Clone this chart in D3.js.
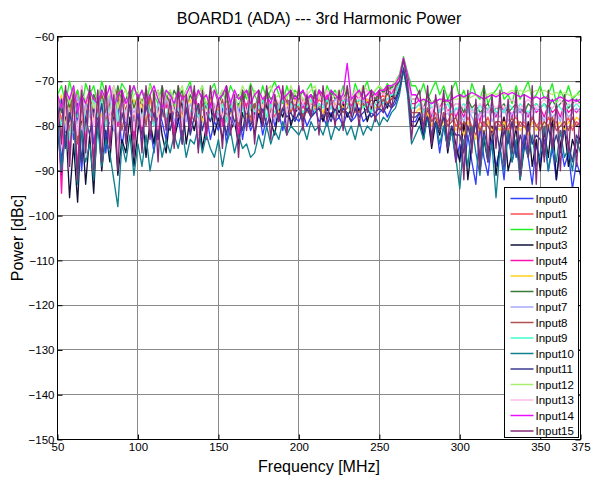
<!DOCTYPE html>
<html>
<head>
<meta charset="utf-8">
<script src="https://cdn.jsdelivr.net/npm/d3@7"></script>
<style>
  body { margin: 0; background: #fff; }
  text { font-family: Arial, "Liberation Sans", sans-serif; fill: #000; }
</style>
</head>
<body>
<svg width="592" height="480"></svg>
<script>
// frequency grid, MHz
var freq = [50,52.5,55,57.5,60,62.5,65,67.5,70,72.5,
  75,77.5,80,82.5,85,87.5,90,92.5,95,97.5,
  100,102.5,105,107.5,110,112.5,115,117.5,120,122.5,
  125,127.5,130,132.5,135,137.5,140,142.5,145,147.5,
  150,152.5,155,157.5,160,162.5,165,167.5,170,172.5,
  175,177.5,180,182.5,185,187.5,190,192.5,195,197.5,
  200,202.5,205,207.5,210,212.5,215,217.5,220,222.5,
  225,227.5,230,232.5,235,237.5,240,242.5,245,247.5,
  250,252.5,255,257.5,260,262.5,265,267.5,270,272.5,
  275,277.5,280,282.5,285,287.5,290,292.5,295,297.5,
  300,302.5,305,307.5,310,312.5,315,317.5,320,322.5,
  325,327.5,330,332.5,335,337.5,340,342.5,345,347.5,
  350,352.5,355,357.5,360,362.5,365,367.5,370,372.5,
  375];

// 3rd harmonic power per input, dBc
var input0 = [-76,-88,-79,-74,-83,-77,-90,-78,-73,-84,
  -79,-75,-86,-77,-81,-74,-85,-78,-76,-82,
  -77,-84,-75,-80,-86,-76,-79,-83,-74,-81,
  -78,-84,-76,-80,-75,-85,-78,-77,-83,-79,
  -81,-76,-84,-78,-80,-75,-83,-77,-81,-79,
  -76,-82,-78,-75,-80,-77,-81,-76,-79,-78,
  -79,-77,-80,-78,-76,-79,-78,-80,-77,-79,
  -78,-80,-77,-79,-78,-76,-79,-78,-77,-78,
  -77,-76,-78,-76,-75,-72,-67,-71,-79,-79,
  -77,-82,-78,-84,-79,-86,-80,-85,-81,-88,
  -84,-90,-82,-88,-93,-80,-87,-91,-83,-89,
  -85,-92,-81,-88,-84,-90,-82,-87,-93,-84,
  -88,-83,-90,-85,-92,-84,-89,-86,-94,-88,
  -91];
var input1 = [-74,-79,-73,-81,-76,-72,-80,-75,-78,-73,
  -77,-72,-79,-74,-76,-80,-73,-77,-75,-79,
  -74,-78,-76,-73,-80,-75,-77,-74,-79,-76,
  -75,-78,-74,-77,-79,-75,-76,-78,-74,-77,
  -76,-79,-75,-77,-74,-78,-76,-75,-79,-76,
  -75,-77,-74,-76,-78,-75,-74,-77,-75,-76,
  -76,-74,-77,-75,-76,-74,-75,-77,-75,-74,
  -75,-76,-74,-75,-77,-74,-75,-74,-76,-74,
  -74,-73,-75,-73,-72,-70,-66,-70,-76,-76,
  -75,-78,-76,-79,-77,-80,-78,-79,-77,-80,
  -79,-81,-78,-80,-82,-79,-80,-78,-81,-79,
  -80,-78,-81,-79,-78,-80,-79,-81,-78,-80,
  -79,-81,-78,-80,-79,-82,-80,-78,-81,-79,
  -80];
var input2 = [-73,-71,-75,-70,-74,-72,-76,-70.5,-73,-71,
  -75,-70,-73,-76,-71,-74,-70.5,-72,-75,-71,
  -74,-72,-76,-70.5,-73,-75,-71,-74,-72,-76,
  -71,-74,-72,-70,-75,-73,-71,-76,-72,-70.5,
  -74,-72,-75,-71,-73,-76,-72,-74,-70.5,-73,
  -75,-71,-74,-72,-70,-73,-75,-71,-74,-72,
  -73,-75,-72,-70.5,-74,-72,-75,-71,-73,-72,
  -74,-71,-73,-75,-70.5,-73,-72,-70,-74,-72,
  -71,-73,-70.5,-72,-70,-68.5,-64.5,-68,-71,-71,
  -73,-70.5,-74,-72,-70,-73,-71,-74,-72,-70,
  -74,-72,-75,-70.5,-73,-74,-71,-75,-73,-72,
  -70.5,-74,-73,-75,-71,-74,-72,-70,-74,-73,
  -71,-74,-73,-70.5,-75,-72,-74,-71,-74,-73,
  -72];
var input3 = [-80,-91,-78,-96,-84,-97,-79,-93,-82,-95,
  -77,-90,-81,-88,-76,-91,-83,-86,-78,-89,
  -81,-76,-87,-79,-84,-75,-82,-86,-77,-83,
  -79,-74,-84,-78,-81,-76,-85,-80,-75,-82,
  -78,-83,-76,-81,-79,-84,-77,-80,-75,-82,
  -77,-80,-75,-79,-82,-76,-78,-74,-80,-77,
  -76,-79,-74,-78,-77,-75,-79,-76,-78,-75,
  -77,-75,-78,-76,-74,-77,-75,-79,-76,-74,
  -75,-74,-76,-73,-74,-71,-66.5,-72,-80,-80,
  -78,-83,-76,-85,-79,-82,-77,-86,-80,-84,
  -88,-79,-92,-84,-77,-90,-83,-88,-80,-91,
  -84,-78,-90,-86,-80,-92,-85,-79,-89,-83,
  -90,-81,-87,-78,-92,-84,-80,-89,-83,-86,
  -82];
var input4 = [-75,-95,-72,-86,-74,-90,-71,-84,-73,-88,
  -72,-82,-71,-85,-74,-80,-72,-78,-71,-83,
  -73,-81,-72,-78,-74,-83,-72,-76,-73,-82,
  -72,-79,-74,-81,-72,-77,-73,-83,-74,-78,
  -73,-80,-72,-77,-75,-82,-73,-76,-72,-79,
  -74,-77,-72,-78,-73,-76,-72,-75,-74,-77,
  -72,-76,-74,-73,-77,-72,-75,-73,-76,-74,
  -73,-75,-72,-76,-73,-74,-72,-75,-73,-74,
  -72,-73,-71,-73,-71,-69.5,-65.5,-69,-75,-75,
  -74,-77,-73,-78,-75,-76,-74,-77,-75,-78,
  -76,-78,-75,-77,-76,-79,-75,-77,-76,-78,
  -75,-77,-76,-78,-75,-77,-76,-78,-75,-77,
  -76,-78,-75,-77,-76,-78,-75,-77,-76,-77,
  -76];
var input5 = [-76,-73,-80,-75,-78,-74,-81,-76,-73,-79,
  -75,-78,-74,-77,-80,-75,-73,-78,-76,-74,
  -77,-75,-79,-74,-76,-78,-75,-73,-77,-76,
  -75,-78,-76,-74,-77,-75,-79,-76,-74,-77,
  -76,-78,-75,-77,-79,-76,-74,-78,-76,-75,
  -77,-75,-78,-76,-74,-77,-76,-75,-77,-74,
  -75,-77,-76,-74,-76,-75,-77,-74,-76,-75,
  -74,-76,-75,-77,-74,-75,-76,-74,-75,-76,
  -75,-74,-73,-74,-73,-70.5,-66.5,-70,-77,-77,
  -76,-79,-77,-80,-78,-81,-79,-80,-78,-81,
  -80,-82,-79,-81,-83,-80,-82,-79,-81,-80,
  -81,-79,-82,-80,-79,-81,-80,-82,-79,-81,
  -80,-79,-81,-78,-80,-79,-81,-79,-80,-78,
  -79];
var input6 = [-74,-77,-72,-76,-73,-78,-72,-75,-77,-73,
  -75,-72,-77,-73,-76,-71,-75,-74,-72,-76,
  -73,-75,-72,-77,-74,-72,-76,-73,-75,-72,
  -74,-72,-76,-73,-75,-72,-74,-76,-73,-72,
  -75,-73,-72,-76,-74,-73,-75,-72,-74,-76,
  -73,-75,-72,-74,-73,-76,-72,-74,-75,-73,
  -74,-72,-75,-73,-74,-72,-73,-75,-72,-74,
  -73,-74,-72,-75,-73,-72,-74,-73,-72,-74,
  -73,-72,-73,-71,-72,-70,-66,-69.5,-74,-74,
  -74,-76,-73,-75,-74,-76,-75,-74,-76,-75,
  -75,-77,-74,-76,-75,-77,-76,-75,-77,-76,
  -76,-75,-77,-76,-75,-76,-77,-75,-76,-75,
  -76,-75,-76,-74,-76,-75,-74,-76,-75,-74,
  -75];
var input7 = [-77,-74,-81,-76,-79,-73,-82,-75,-78,-74,
  -80,-75,-78,-73,-81,-76,-74,-79,-75,-77,
  -75,-79,-74,-77,-80,-75,-78,-74,-76,-79,
  -76,-74,-79,-75,-77,-80,-74,-78,-76,-75,
  -78,-75,-77,-74,-80,-76,-75,-79,-74,-77,
  -75,-78,-74,-76,-79,-75,-77,-74,-76,-75,
  -77,-75,-76,-78,-74,-76,-75,-77,-76,-74,
  -75,-77,-74,-76,-75,-78,-74,-76,-75,-77,
  -75,-74,-74,-73,-72,-70.5,-66,-70,-76,-76,
  -75,-78,-76,-77,-79,-76,-78,-77,-79,-76,
  -77,-79,-76,-78,-80,-77,-78,-76,-79,-77,
  -78,-76,-79,-77,-78,-76,-79,-77,-78,-76,
  -77,-79,-76,-78,-77,-79,-76,-78,-77,-76,
  -77];
var input8 = [-75,-82,-74,-79,-72,-84,-76,-80,-73,-78,
  -77,-73,-80,-75,-78,-72,-81,-76,-74,-79,
  -76,-74,-80,-73,-78,-75,-77,-79,-74,-76,
  -78,-73,-76,-79,-74,-77,-75,-80,-73,-76,
  -77,-74,-79,-75,-76,-80,-74,-77,-78,-75,
  -76,-79,-74,-77,-75,-78,-76,-74,-77,-75,
  -76,-78,-74,-77,-75,-76,-78,-75,-74,-76,
  -75,-77,-76,-74,-76,-77,-75,-76,-74,-75,
  -76,-74,-75,-74,-73,-71,-66.5,-71,-77,-77,
  -77,-80,-76,-79,-78,-81,-77,-80,-79,-78,
  -81,-79,-80,-82,-78,-81,-79,-80,-82,-79,
  -79,-81,-80,-78,-81,-79,-80,-81,-78,-80,
  -81,-79,-80,-78,-81,-80,-79,-81,-78,-80,
  -79];
var input9 = [-76,-80,-74,-83,-75,-78,-73,-81,-77,-74,
  -78,-74,-80,-76,-73,-79,-75,-77,-74,-80,
  -75,-78,-74,-77,-80,-75,-76,-78,-74,-77,
  -76,-79,-75,-77,-74,-78,-76,-75,-79,-76,
  -77,-75,-79,-76,-74,-78,-76,-80,-75,-77,
  -76,-74,-78,-75,-77,-76,-74,-77,-75,-76,
  -75,-77,-76,-74,-77,-75,-76,-74,-76,-77,
  -76,-74,-75,-77,-75,-74,-76,-75,-77,-75,
  -74,-75,-74,-73,-73,-70.5,-66.5,-70,-76,-76,
  -75,-77,-74,-76,-75,-77,-76,-75,-77,-76,
  -76,-75,-77,-76,-78,-75,-77,-76,-75,-77,
  -76,-77,-75,-76,-77,-75,-76,-77,-76,-75,
  -76,-75,-77,-76,-75,-76,-77,-75,-76,-75,
  -76];
var input10 = [-78,-90,-82,-86,-79,-93,-81,-88,-84,-92,
  -80,-89,-83,-86,-92,-98,-84,-88,-82,-91,
  -84,-89,-82,-90,-85,-81,-87,-83,-86,-82,
  -85,-81,-87,-83,-84,-80,-86,-82,-85,-87,
  -83,-89,-84,-81,-86,-82,-85,-84,-87,-86,
  -82,-85,-80,-84,-81,-83,-79,-82,-80,-81,
  -82,-80,-83,-79,-81,-80,-82,-79,-83,-80,
  -81,-79,-82,-80,-83,-79,-82,-80,-81,-78,
  -80,-78,-79,-77,-76,-73,-67.5,-73,-84,-82,
  -80,-83,-78,-82,-79,-84,-80,-85,-81,-87,
  -94,-83,-89,-80,-86,-91,-82,-88,-84,-96,
  -85,-90,-81,-88,-83,-92,-84,-87,-82,-89,
  -86,-80,-90,-84,-88,-81,-87,-85,-90,-83,
  -86];
var input11 = [-79,-74,-85,-77,-81,-75,-88,-78,-82,-76,
  -80,-75,-83,-78,-76,-84,-77,-81,-75,-79,
  -78,-82,-75,-80,-77,-83,-76,-79,-81,-76,
  -77,-80,-76,-82,-78,-75,-81,-77,-79,-76,
  -80,-77,-82,-76,-79,-78,-81,-76,-80,-77,
  -78,-76,-80,-77,-75,-79,-76,-78,-77,-79,
  -77,-79,-76,-78,-77,-76,-78,-77,-79,-76,
  -78,-76,-77,-79,-76,-78,-77,-76,-78,-77,
  -76,-77,-75,-76,-74,-72,-67,-72,-78,-78,
  -77,-80,-78,-82,-79,-81,-78,-83,-80,-82,
  -82,-86,-80,-84,-79,-87,-81,-85,-83,-80,
  -86,-81,-84,-79,-87,-82,-85,-80,-84,-82,
  -83,-87,-80,-85,-82,-86,-81,-84,-88,-82,
  -84];
var input12 = [-73,-76,-72,-75,-71,-77,-73,-74,-72,-76,
  -74,-72,-75,-73,-71,-76,-73,-72,-75,-73,
  -72,-75,-73,-71,-74,-72,-76,-73,-72,-74,
  -73,-71,-75,-72,-74,-73,-71,-75,-73,-72,
  -74,-72,-73,-75,-72,-74,-71,-73,-75,-72,
  -73,-74,-72,-71,-74,-73,-72,-74,-71,-73,
  -72,-74,-73,-72,-71,-74,-73,-72,-74,-73,
  -72,-73,-71,-74,-72,-73,-71,-72,-73,-72,
  -71,-72,-71,-71,-70,-69,-65,-68.5,-73,-73,
  -74,-74.5,-74,-75,-74.5,-74,-75,-74.5,-74,-74,
  -74,-73.5,-74,-73.5,-73,-73.5,-73,-73,-72.5,-73,
  -72.5,-73,-72.5,-72,-72.5,-72,-72.5,-72,-72.5,-72,
  -72.5,-72,-72.5,-73,-72.5,-73,-72.5,-73,-73.5,-73,
  -73];
var input13 = [-74,-85,-72,-90,-75,-82,-71,-87,-74,-80,
  -72,-84,-73,-79,-71,-86,-74,-78,-72,-81,
  -73,-80,-72,-82,-74,-78,-72,-81,-73,-77,
  -74,-80,-72,-78,-75,-82,-73,-79,-72,-77,
  -73,-78,-75,-81,-72,-79,-74,-77,-73,-80,
  -72,-76,-74,-78,-73,-75,-72,-77,-74,-75,
  -73,-75,-72,-76,-74,-73,-75,-72,-74,-76,
  -72,-74,-73,-75,-72,-74,-73,-72,-74,-73,
  -72,-73,-72,-72,-71,-69.5,-65.5,-69,-74,-74,
  -74,-76,-75,-77,-74,-76,-75,-77,-76,-75,
  -75,-76,-75,-77,-76,-75,-76,-77,-75,-76,
  -75,-76,-75,-74,-75,-76,-75,-74,-75,-76,
  -75,-74,-75,-76,-75,-74,-76,-75,-74,-75,
  -75];
var input14 = [-73,-76,-72,-74,-71,-77,-73,-75,-72,-74,
  -75,-72,-74,-71,-76,-73,-72,-75,-73,-71,
  -74,-72,-75,-73,-71,-74,-76,-72,-73,-75,
  -72,-74,-73,-71,-75,-72,-74,-73,-76,-72,
  -74,-73,-71,-75,-72,-74,-73,-72,-75,-73,
  -72,-74,-73,-75,-72,-71,-74,-73,-72,-74,
  -73,-72,-74,-73,-75,-72,-73,-74,-72,-73,
  -74,-73,-66,-74,-73,-72,-74,-73,-72,-73,
  -72,-72,-71,-71,-70.5,-69,-64.8,-68.5,-73,-73,
  -74.5,-74,-74.5,-75,-74.5,-74,-74,-74.5,-74,-73.5,
  -73,-73.5,-73,-72.5,-73,-73.5,-74,-73.5,-73,-73.5,
  -73,-72.5,-73,-72.5,-73,-73.5,-73,-73.5,-74,-73.5,
  -74,-73.5,-74,-74.5,-74,-73.5,-74,-74.5,-74,-74.5,
  -74];
var input15 = [-75,-84,-71,-89,-73,-92,-72,-86,-71,-90,
  -72,-88,-71,-85,-73,-90,-72,-84,-71,-87,
  -73,-86,-71,-83,-72,-88,-71,-81,-74,-85,
  -71,-84,-73,-80,-71,-86,-72,-82,-71,-79,
  -74,-85,-71,-82,-73,-87,-72,-81,-71,-84,
  -72,-80,-71,-83,-73,-79,-71,-82,-72,-78,
  -71,-81,-73,-78,-72,-82,-71,-79,-73,-80,
  -72,-81,-71,-78,-73,-80,-71,-77,-72,-79,
  -72,-77,-71,-76,-71,-70,-65.2,-70,-83,-74,
  -72,-81,-71,-84,-73,-80,-72,-85,-71,-88,
  -73,-92,-72,-86,-74,-90,-71,-88,-73,-85,
  -72,-89,-74,-86,-72,-91,-73,-87,-71,-93,
  -74,-88,-72,-85,-75,-90,-73,-86,-74,-89,
  -76];

var series = [input0, input1, input2, input3, input4, input5, input6, input7,
  input8, input9, input10, input11, input12, input13, input14, input15];
var names = ["Input0","Input1","Input2","Input3","Input4","Input5","Input6","Input7",
  "Input8","Input9","Input10","Input11","Input12","Input13","Input14","Input15"];
var colors = ["#3040ff","#ff5050","#22ee22","#10103a","#ff10b0","#ffd020","#3a7a3a","#a8a8ff",
  "#b05050","#40ffd0","#10808f","#3a3a90","#a8ee70","#ffbbe8","#e810ff","#852a78"];

var xTicks = [50,100,150,200,250,300,350,375];
var yTicks = [-60,-70,-80,-90,-100,-110,-120,-130,-140,-150];

var svg = d3.select("svg"),
  width = +svg.attr("width"),
  height = +svg.attr("height");

svg.append("rect").attr("width", width).attr("height", height).attr("fill", "#fff");

// plot box (half pixels keep 1px lines crisp)
var pL = 57.5, pR = 580.5, pT = 36.5, pB = 439.5;

var x = d3.scaleLinear().domain([50, 375]).range([pL, pR]);
var y = d3.scaleLinear().domain([-150, -60]).range([pB, pT]);
var snap = v => Math.round(v - 0.5) + 0.5;

// grid
svg.append("g")
  .selectAll("line")
  .data(xTicks)
  .enter().append("line")
  .attr("x1", d => snap(x(d))).attr("x2", d => snap(x(d)))
  .attr("y1", pT).attr("y2", pB)
  .attr("stroke", "#8a8a8a").attr("stroke-width", 1);
svg.append("g")
  .selectAll("line")
  .data(yTicks)
  .enter().append("line")
  .attr("y1", d => snap(y(d))).attr("y2", d => snap(y(d)))
  .attr("x1", pL).attr("x2", pR)
  .attr("stroke", "#8a8a8a").attr("stroke-width", 1);

// the traces
svg.append("clipPath").attr("id", "plotclip")
  .append("rect").attr("x", pL).attr("y", pT).attr("width", pR - pL).attr("height", pB - pT);

var line = d3.line()
  .defined(d => d.v != null)
  .x(d => x(d.f))
  .y(d => y(d.v));

svg.append("g").attr("clip-path", "url(#plotclip)")
  .selectAll("path")
  .data(series)
  .enter().append("path")
  .attr("d", s => line(freq.map((f, i) => ({f: f, v: s[i]}))))
  .attr("fill", "none")
  .attr("stroke", (s, i) => colors[i])
  .attr("stroke-width", 1.35)
  .attr("stroke-linejoin", "round");

// axes, ticks pointing inwards like matlab
var fmt = d3.format("d");
var gx = svg.append("g").attr("transform", "translate(0," + pB + ")")
  .call(d3.axisBottom(x).tickValues(xTicks).tickFormat(fmt).tickSize(-5).tickPadding(3));
gx.select(".domain").remove();
gx.selectAll("text").attr("font-size", 11.5).attr("dy", "0.75em");

var gxt = svg.append("g").attr("transform", "translate(0," + pT + ")")
  .call(d3.axisTop(x).tickValues(xTicks).tickFormat("").tickSize(-5));
gxt.select(".domain").remove();

var gy = svg.append("g").attr("transform", "translate(" + pL + ",0)")
  .call(d3.axisLeft(y).tickValues(yTicks).tickFormat(fmt).tickSize(-5).tickPadding(3));
gy.select(".domain").remove();
gy.selectAll("text").attr("font-size", 11.5);

var gyr = svg.append("g").attr("transform", "translate(" + pR + ",0)")
  .call(d3.axisRight(y).tickValues(yTicks).tickFormat("").tickSize(-5));
gyr.select(".domain").remove();

svg.selectAll(".tick line").attr("stroke", "#000");
svg.selectAll(".tick text").attr("fill", "#000").style("font-family", "Arial, 'Liberation Sans', sans-serif");

svg.append("rect")
  .attr("x", pL).attr("y", pT)
  .attr("width", pR - pL).attr("height", pB - pT)
  .attr("fill", "none").attr("stroke", "#000").attr("stroke-width", 1);

// labels
svg.append("text").attr("x", (pL + pR) / 2).attr("y", 24)
  .attr("text-anchor", "middle").attr("font-size", 16)
  .text("BOARD1 (ADA) --- 3rd Harmonic Power");
svg.append("text").attr("x", (pL + pR) / 2).attr("y", 472)
  .attr("text-anchor", "middle").attr("font-size", 16)
  .text("Frequency [MHz]");
svg.append("text")
  .attr("transform", "translate(23," + ((pT + pB) / 2) + ") rotate(-90)")
  .attr("text-anchor", "middle").attr("font-size", 16)
  .text("Power [dBc]");

// legend
var lg = svg.append("g");
var lgX = 504.5, lgY = 187.5, rowH = 15.5;
lg.append("rect")
  .attr("x", lgX).attr("y", lgY)
  .attr("width", 74).attr("height", 250)
  .attr("fill", "#fff").attr("stroke", "#000").attr("stroke-width", 1);
var rows = lg.selectAll("g")
  .data(names)
  .enter().append("g")
  .attr("transform", (d, i) => "translate(" + lgX + "," + (lgY + 11 + i * rowH) + ")");
rows.append("line")
  .attr("x1", 6).attr("x2", 29).attr("y1", 0).attr("y2", 0)
  .attr("stroke", (d, i) => colors[i]).attr("stroke-width", 1.5);
rows.append("text")
  .attr("x", 31).attr("y", 0).attr("dy", "0.35em")
  .attr("font-size", 11.5)
  .text(d => d);
</script>
</body>
</html>
